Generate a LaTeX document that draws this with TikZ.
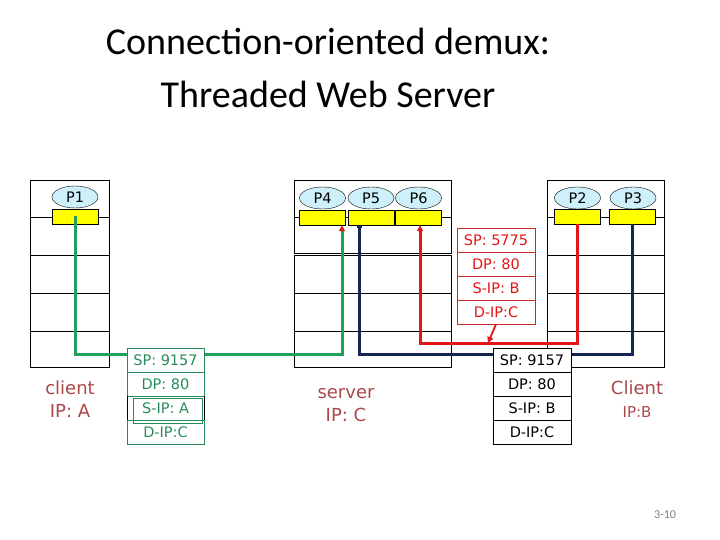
\documentclass[tikz,border=0pt]{standalone}
\usepackage{fontspec}
\setmainfont{Carlito}
\newfontfamily\comic{DejaVu Sans}
\usetikzlibrary{shapes,arrows.meta}

\definecolor{sockyellow}{RGB}{255,255,0}
\definecolor{proccyan}{RGB}{206,240,250}
\definecolor{cgreen}{RGB}{34,160,92}
\definecolor{pgreen}{RGB}{40,140,90}
\definecolor{cred}{RGB}{226,22,22}
\definecolor{pred}{RGB}{200,40,40}
\definecolor{cnavy}{RGB}{22,38,82}
\definecolor{hostred}{RGB}{172,72,72}

\begin{document}
\begin{tikzpicture}[x=1pt, y=-1pt,
    proc/.style={ellipse, draw, fill=proccyan, minimum width=46pt, minimum height=22pt, inner sep=0pt, font=\comic\fontsize{14.5}{14.5}\selectfont},
    sock/.style={rectangle, draw, fill=sockyellow, minimum width=46pt, minimum height=15pt, inner sep=0pt},
    field/.style={rectangle, draw, fill=white, minimum width=78pt, minimum height=24pt, inner sep=0pt, font=\comic\fontsize{14.5}{14.5}\selectfont},
    host/.style={text=hostred, align=center, font=\comic\fontsize{18}{23}\selectfont},
    gline/.style={cgreen, line width=3pt},
    rline/.style={cred, line width=3pt},
    nline/.style={cnavy, line width=3pt} ]
    \useasboundingbox (0,0) rectangle (720,540);

    % title
    \node[font=\fontsize{38}{53}\selectfont, align=center] (title) at (328,68) {Connection-oriented demux:\\Threaded Web Server};

    % protocol stacks
    \draw (30,180) rectangle (109,367);
    \foreach \y in {217,255,293,331} \draw (30,\y) -- (109,\y);
    \draw (294,180) rectangle (451,253);
    \draw (294,255) rectangle (451,367);
    \foreach \y in {217,293,331} \draw (294,\y) -- (451,\y);
    \draw (547,180) rectangle (664,367);
    \foreach \y in {217,255,293,331} \draw (547,\y) -- (664,\y);

    % processes and sockets
    \node[proc] (p1) at (75,197) {P1};
    \node[proc] (p4) at (322.5,198) {P4};
    \node[proc] (p5) at (371,198) {P5};
    \node[proc] (p6) at (418.5,198) {P6};
    \node[proc] (p2) at (577.5,198) {P2};
    \node[proc] (p3) at (633,198) {P3};
    \node[sock] (s1) at (75,216.5) {};
    \node[sock] (s4) at (322.5,217.5) {};
    \node[sock] (s5) at (371,217.5) {};
    \node[sock] (s6) at (418.5,217.5) {};
    \node[sock] (s2) at (577.5,216.5) {};
    \node[sock] (s3) at (632.5,216.5) {};

    % connections
    \coordinate (gb) at (342,354);
    \coordinate (nb) at (359,354);
    \coordinate (rb) at (420,343);
    \coordinate (rhit) at (488,343);
    \draw[gline, -{Triangle[color=cred, length=6pt, width=6pt]}] (s1.center) |- (gb) -- (gb |- s4.south);
    \draw[nline, -{Square[length=3pt, width=5pt]}] (s3.south) |- (nb) -- (nb |- s5.south);
    \draw[rline, -{Triangle[length=6pt, width=6pt]}] (s2.south) |- (rb) -- (rb |- s6.south);

    % segments
    \foreach \txt [count=\i] in {SP: 9157, DP: 80, S-IP: A, D-IP:C}
        \node[field, draw=pgreen, text=pgreen, minimum width=77pt] (ga\i) at (165.5,{336+24*\i}) {\txt};
    \draw (ga3.north west) -- (ga3.south west) (ga3.north east) -- (ga3.south east);
    \draw[pgreen] ([xshift=6pt, yshift=-2pt]ga3.north west) rectangle ([xshift=-2pt, yshift=-3pt]ga3.south east);
    \foreach \txt [count=\i] in {SP: 5775, DP: 80, S-IP: B, D-IP:C}
        \node[field, draw=pred, text=cred] (rp\i) at (496,{216+24*\i}) {\txt};
    \foreach \txt [count=\i] in {SP: 9157, DP: 80, S-IP: B, D-IP:C}
        \node[field] (bp\i) at (532,{336+24*\i}) {\txt};
    \draw[cred, line width=1.8pt, -{Triangle[length=6pt, width=6pt]}] (rp4.south) -- (rhit);

    % hosts
    \node[host] (hA) at (70,399) {client\\IP: A};
    \node[host] (hC) at (346,405) {server\\IP: C};
    \node[host] (hB) at (637,399) {Client\\{\fontsize{15}{15}\selectfont IP:B}};

    \node[text=gray, font=\fontsize{12}{12}\selectfont] (pg) at (665,515) {3-10};
\end{tikzpicture}
\end{document}
